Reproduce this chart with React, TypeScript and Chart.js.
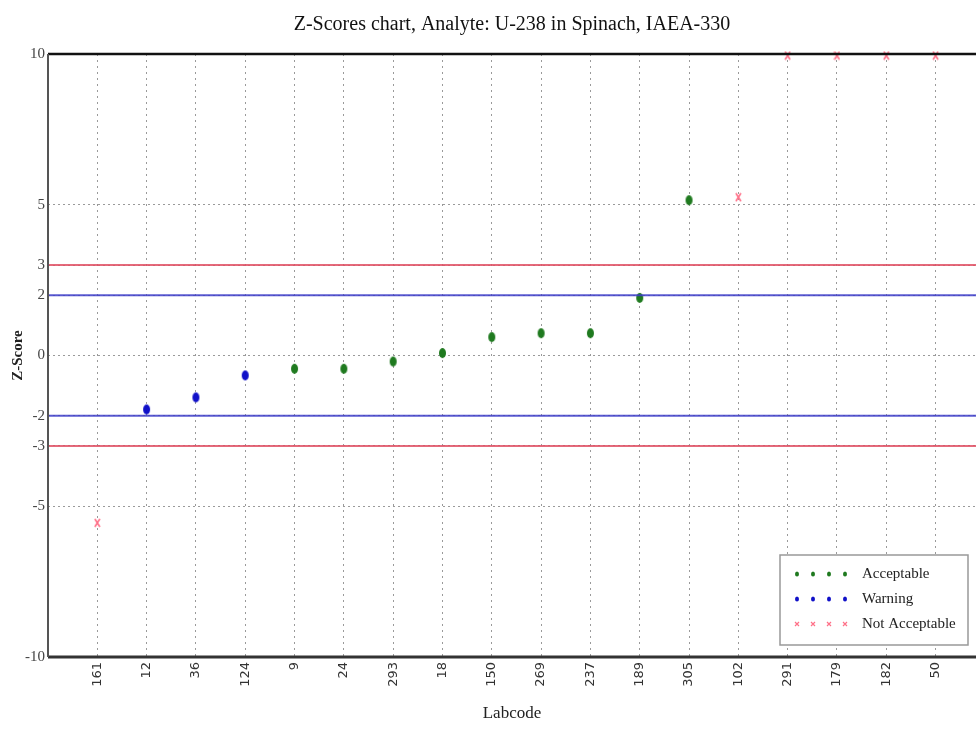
import React, { useEffect, useRef } from "react";
import { Chart, registerables } from "chart.js";

Chart.register(...registerables);

const chartTitle = "Z-Scores chart, Analyte: U-238 in Spinach, IAEA-330";
const labcodes = ["161", "12", "36", "124", "9", "24", "293", "18", "150", "269", "237", "189", "305", "102", "291", "179", "182", "50"];
const zScores = [-5.55, -1.79, -1.39, -0.66, -0.44, -0.44, -0.2, 0.08, 0.61, 0.74, 0.74, 1.91, 5.15, 5.25, 9.95, 9.95, 9.95, 9.95];
const statuses = ["N", "W", "W", "W", "A", "A", "A", "A", "A", "A", "A", "A", "A", "N", "N", "N", "N", "N"];
const yTickValues = [-10, -5, -3, -2, 0, 2, 3, 5, 10];
const warningLimits = [-2, 2];
const actionLimits = [-3, 3];
const legendLabels = ["Acceptable", "Warning", "Not Acceptable"];

const GREEN = "#1f7a1f";
const BLUE = "#1010c8";
const RED = "#ff7088";

function ellipseMarker(color: string, w: number, h: number) {
  const c = document.createElement("canvas");
  c.width = w + 2;
  c.height = h + 2;
  const ctx = c.getContext("2d")!;
  ctx.fillStyle = color;
  ctx.beginPath();
  ctx.ellipse((w + 2) / 2, (h + 2) / 2, w / 2, h / 2, 0, 0, Math.PI * 2);
  ctx.fill();
  return c;
}
function crossMarker(color: string, w: number, h: number) {
  const c = document.createElement("canvas");
  c.width = w + 2;
  c.height = h + 2;
  const ctx = c.getContext("2d")!;
  ctx.strokeStyle = color;
  ctx.lineWidth = 1.6;
  ctx.beginPath();
  ctx.moveTo(1, 1);
  ctx.lineTo(w + 1, h + 1);
  ctx.moveTo(w + 1, 1);
  ctx.lineTo(1, h + 1);
  ctx.stroke();
  return c;
}

export default function App() {
  const ref = useRef<HTMLCanvasElement | null>(null);
  useEffect(() => {
    document.body.style.margin = "0";
    const greenM = ellipseMarker(GREEN, 7, 10);
    const blueM = ellipseMarker(BLUE, 7, 10);
    const redM = crossMarker(RED, 5, 8);
    const pts = (s: string) =>
      labcodes.map((_, i) => i).filter((i) => statuses[i] === s).map((i) => ({ x: i, y: zScores[i] }));
    const hline = (y: number, color: string) => ({
      type: "line" as const,
      data: [{ x: -1, y }, { x: 19, y }],
      borderColor: color,
      borderWidth: 2,
      pointRadius: 0,
      showLine: true,
    });
    const xMin = -1;
    const xMax = 17.82;

    const decorPlugin = {
      id: "decor",
      afterDraw(chart: any) {
        const { ctx, chartArea } = chart;
        ctx.save();
        // title centred over the plot area
        ctx.fillStyle = "#111";
        ctx.font = "20px 'Liberation Serif'";
        ctx.textAlign = "center";
        ctx.textBaseline = "middle";
        ctx.fillText(chartTitle, (chartArea.left + chartArea.right) / 2, chartArea.top - 29);
        ctx.textAlign = "left";
        // frame
        ctx.strokeStyle = "#111";
        ctx.lineWidth = 2.5;
        ctx.beginPath();
        ctx.moveTo(chartArea.left, chartArea.top);
        ctx.lineTo(chartArea.right, chartArea.top);
        ctx.stroke();
        ctx.strokeStyle = "#333";
        ctx.lineWidth = 3;
        ctx.beginPath();
        ctx.moveTo(chartArea.left, chartArea.bottom);
        ctx.lineTo(chartArea.right, chartArea.bottom);
        ctx.stroke();
        ctx.strokeStyle = "#555";
        ctx.lineWidth = 2;
        ctx.beginPath();
        ctx.moveTo(chartArea.left, chartArea.top);
        ctx.lineTo(chartArea.left, chartArea.bottom);
        ctx.stroke();
        // legend
        const w = 188, h = 90;
        const x0 = chartArea.right - 8 - w;
        const y0 = chartArea.bottom - 12 - h;
        ctx.fillStyle = "#fff";
        ctx.strokeStyle = "#999";
        ctx.lineWidth = 1.5;
        ctx.beginPath();
        ctx.rect(x0, y0, w, h);
        ctx.fill();
        ctx.stroke();
        const colors = [GREEN, BLUE, RED];
        ctx.font = "15px 'Liberation Serif'";
        ctx.textBaseline = "middle";
        for (let r = 0; r < 3; r++) {
          const cy = y0 + 19 + r * 25;
          for (let k = 0; k < 4; k++) {
            const cx = x0 + 17 + k * 16;
            ctx.fillStyle = colors[r];
            ctx.strokeStyle = colors[r];
            if (r === 2) {
              ctx.lineWidth = 1.2;
              ctx.beginPath();
              ctx.moveTo(cx - 2, cy - 2);
              ctx.lineTo(cx + 2, cy + 2);
              ctx.moveTo(cx + 2, cy - 2);
              ctx.lineTo(cx - 2, cy + 2);
              ctx.stroke();
            } else {
              ctx.beginPath();
              ctx.ellipse(cx, cy, 2, 2.5, 0, 0, Math.PI * 2);
              ctx.fill();
            }
          }
          ctx.fillStyle = "#222";
          ctx.fillText(legendLabels[r], x0 + 82, cy);
        }
        ctx.restore();
      },
    };

    const chart = new Chart(ref.current!, {
      type: "scatter",
      data: {
        datasets: [
          hline(actionLimits[1], "rgba(225,80,100,0.85)"),
          hline(actionLimits[0], "rgba(225,80,100,0.85)"),
          hline(warningLimits[1], "rgba(60,60,200,0.85)"),
          hline(warningLimits[0], "rgba(60,60,200,0.85)"),
          { label: legendLabels[0], data: pts("A"), pointStyle: greenM as any, pointRadius: 5 },
          { label: legendLabels[1], data: pts("W"), pointStyle: blueM as any, pointRadius: 5 },
          { label: legendLabels[2], data: pts("N"), pointStyle: redM as any, pointRadius: 5 },
        ] as any,
      },
      options: {
        animation: false,
        responsive: true,
        maintainAspectRatio: false,
        layout: { padding: { left: 0, right: 0, top: 54, bottom: 0 } },
        clip: false as any,
        plugins: {
          legend: { display: false },
          tooltip: { enabled: false },
          title: { display: false },
        },
        scales: {
          x: {
            type: "linear",
            min: xMin,
            max: xMax,
            afterBuildTicks: (scale: any) => {
              scale.ticks = labcodes.map((_, i) => ({ value: i }));
            },
            afterFit: (scale: any) => {
              scale.height = 74;
              scale.paddingLeft = 0;
              scale.paddingRight = 0;
            },
            ticks: {
              callback: (v: any) => labcodes[v as number] ?? "",
              minRotation: 90,
              maxRotation: 90,
              autoSkip: false,
              color: "#333",
              font: { family: "'DejaVu Sans'", size: 13 },
              padding: 0,
            },
            grid: { color: "#9a9a9a", lineWidth: 1, drawTicks: true, tickLength: 5, tickColor: "rgba(0,0,0,0)" },
            border: { display: false, dash: [2, 4] },
            title: {
              display: true,
              text: "Labcode",
              color: "#222",
              font: { family: "'Liberation Serif'", size: 17 },
              padding: { top: 0, bottom: 7 },
            },
          },
          y: {
            min: -10,
            max: 10,
            afterBuildTicks: (scale: any) => {
              scale.ticks = yTickValues.map((v) => ({ value: v }));
            },
            afterFit: (scale: any) => {
              scale.width = 48;
            },
            ticks: {
              color: "#444",
              font: { family: "'Liberation Serif'", size: 15 },
              padding: 3,
            },
            grid: { color: "#9a9a9a", lineWidth: 1, drawTicks: false },
            border: { display: false, dash: [2, 3] },
            title: {
              display: true,
              text: "Z-Score",
              color: "#222",
              font: { family: "'Liberation Serif'", size: 15, weight: "bold" },
              padding: { top: 9, bottom: 0 },
            },
          },
        },
      } as any,
      plugins: [decorPlugin],
    });
    return () => chart.destroy();
  }, []);
  return (
    <div style={{ width: 976, height: 731, position: "relative", overflow: "hidden" }}>
      <div style={{ width: 982, height: 731, position: "relative" }}>
        <canvas ref={ref} />
      </div>
    </div>
  );
}
